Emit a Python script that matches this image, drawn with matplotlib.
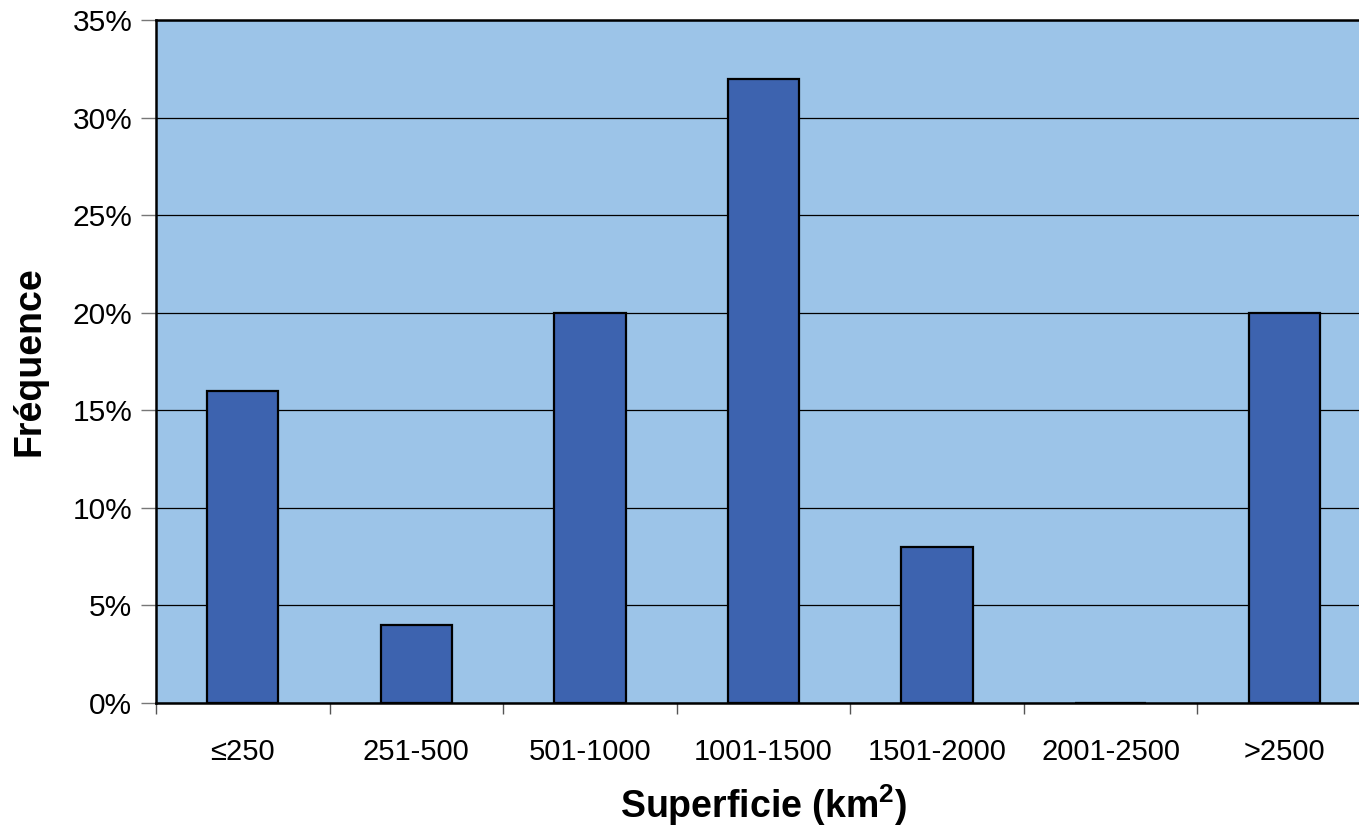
import matplotlib.pyplot as plt
from matplotlib.ticker import FuncFormatter

classes = ['≤250', '251-500', '501-1000', '1001-1500', '1501-2000', '2001-2500', '>2500']
frequences = [16, 4, 20, 32, 8, 0, 20]

plt.rcParams['font.family'] = ['Liberation Sans', 'DejaVu Sans']
plt.rcParams['mathtext.fontset'] = 'custom'
plt.rcParams['mathtext.rm'] = 'Liberation Sans:bold'
plt.rcParams['mathtext.bf'] = 'Liberation Sans:bold'

fig = plt.figure(figsize=(13.59, 8.4), dpi=100)
ax = fig.add_axes([0.1148, 0.1631, 0.8940, 0.8131])
ax.set_facecolor('#9CC4E8')

x = range(len(classes))
ax.bar(x, frequences, width=0.41, color='#3D63AF', edgecolor='black',
       linewidth=1.6, zorder=3)

ax.set_xlim(-0.5, len(classes) - 0.5)
ax.set_ylim(0, 35)
ax.set_yticks(range(0, 36, 5))
ax.yaxis.set_major_formatter(FuncFormatter(lambda v, p: f'{v:.0f}%'))
ax.grid(axis='y', color='black', linewidth=0.9, zorder=1)

# category labels centred, tick marks between categories
ax.set_xticks(list(x))
ax.set_xticklabels(classes)
ax.set_xticks([i - 0.5 for i in range(len(classes) + 1)], minor=True)
ax.tick_params(axis='x', which='major', length=0, pad=25, labelsize=21)
ax.tick_params(axis='x', which='minor', length=8, width=1, color='#555555')
ax.tick_params(axis='y', length=11, width=1, color='#777777', pad=6, labelsize=21.5)

for side in ['left', 'top', 'bottom']:
    ax.spines[side].set_linewidth(1.8)
ax.spines['right'].set_visible(False)

ax.set_xlabel(r'Superficie (km$^{2}$)', fontsize=27, fontweight='bold', labelpad=12)
ax.set_ylabel('Fréquence', fontsize=27, fontweight='bold')
ax.yaxis.set_label_coords(-0.089, 0.5)

plt.savefig('out.png', dpi=100)
